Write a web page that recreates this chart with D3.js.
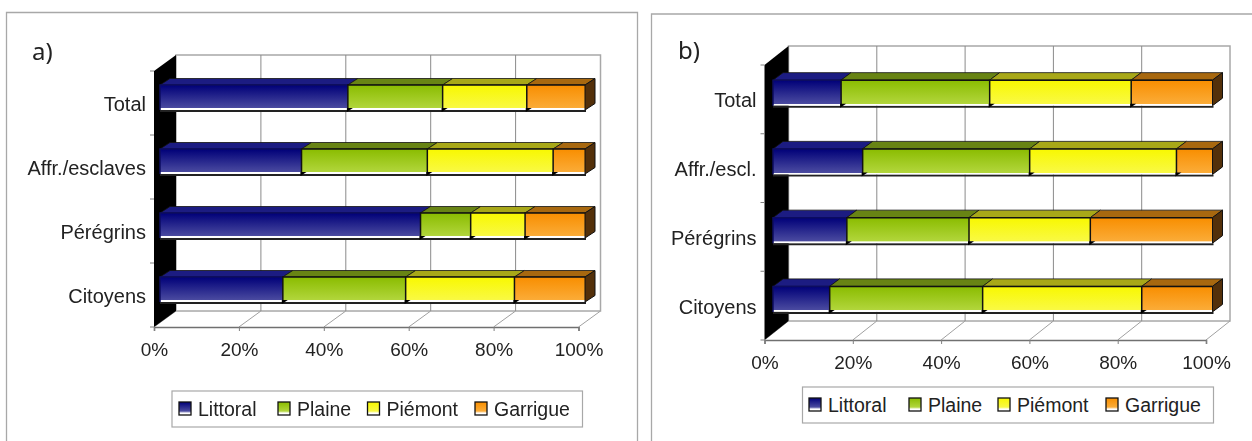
<!DOCTYPE html>
<html><head><meta charset="utf-8">
<script src="https://cdnjs.cloudflare.com/ajax/libs/d3/7.8.5/d3.min.js"></script>
<style>html,body{margin:0;background:#fff}svg{display:block;filter:blur(0.4px)}text{font-family:"Liberation Sans",Arial,sans-serif;fill:#222}</style>
</head><body><svg id="c" width="1252" height="441"></svg>
<script>
// Categories and series (percent of each row)
const seriesNames = ["Littoral","Plaine","Piémont","Garrigue"];
const categoriesA = ["Total","Affr./esclaves","Pérégrins","Citoyens"];
const categoriesB = ["Total","Affr./escl.","Pérégrins","Citoyens"];
const xTickValues = [0,20,40,60,80,100];
// Panel a
const littoralA = [44.2,33.3,61.3,28.9];
const plaineA   = [22.3,29.6,11.8,28.9];
const piemontA  = [19.8,29.6,12.8,25.6];
const garrigueA = [13.7,7.5,14.1,16.6];
// Panel b
const littoralB = [15.5,20.4,16.8,12.9];
const plaineB   = [33.8,38.0,27.8,34.8];
const piemontB  = [32.2,33.4,27.6,36.2];
const garrigueB = [18.5,8.2,27.8,16.1];

const colors = {
  Littoral:{top:"#000078",bot:"#4b4ba0",face:"#1c1c82"},
  Plaine:{top:"#8abc00",bot:"#b2d63c",face:"#688414"},
  "Piémont":{top:"#f8f800",bot:"#f9f944",face:"#a8a818"},
  Garrigue:{top:"#f88e00",bot:"#fbac38",face:"#a8680f"}
};
const svg = d3.select("#c");
const defs = svg.append("defs");
const slug = n => n.replace(/[^A-Za-z]/g,"");
seriesNames.forEach(n=>{
  const g = defs.append("linearGradient").attr("id","g"+slug(n)).attr("x1",0).attr("x2",0).attr("y1",0).attr("y2",1);
  g.append("stop").attr("offset","0").attr("stop-color",colors[n].top);
  g.append("stop").attr("offset","0.93").attr("stop-color",colors[n].bot);
  g.append("stop").attr("offset","0.94").attr("stop-color","#fff");
  const l = defs.append("linearGradient").attr("id","l"+slug(n)).attr("x1",0).attr("x2",0).attr("y1",0).attr("y2",1);
  l.append("stop").attr("offset","0").attr("stop-color",colors[n].top);
  l.append("stop").attr("offset","0.7").attr("stop-color",colors[n].bot);
  l.append("stop").attr("offset","0.85").attr("stop-color","#fff");
});

function panel(cfg){
  const root = svg.append("g");
  root.append("path").attr("d",`M${cfg.frame.l},441V${cfg.frame.t}H${cfg.frame.r}V441`)
    .attr("fill","none").attr("stroke","#a8a8a8").attr("stroke-width",1.3);
  root.append("text").attr("x",cfg.title.x).attr("y",cfg.title.y).text(cfg.title.t)
    .style("font-family","'Noto Sans'").style("font-size","24px");

  const x = d3.scaleLinear().domain([0,100]).range([cfg.x0,cfg.x1]);
  const y = d3.scaleBand().domain(cfg.categories).range([cfg.y0,cfg.y1]).padding(0);
  const {dx,dy} = cfg.depth;
  const bx = d3.scaleLinear().domain([0,100]).range([cfg.barX0,cfg.barX1]);

  // back wall
  root.append("rect").attr("x",cfg.x0+dx).attr("y",cfg.y0-dy).attr("width",cfg.x1-cfg.x0).attr("height",cfg.y1-cfg.y0)
    .attr("fill","#fff").attr("stroke","#a8a8a8").attr("stroke-width",1.5);
  // gridlines and floor lines
  const grid = root.append("g");
  xTickValues.slice(1,-1).forEach(v=>{
    grid.append("line").attr("x1",x(v)+dx).attr("x2",x(v)+dx).attr("y1",cfg.y0-dy).attr("y2",cfg.y1-dy).attr("stroke","#8a8a8a");
  });
  xTickValues.forEach(v=>{
    grid.append("line").attr("x1",x(v)).attr("x2",x(v)+dx).attr("y1",cfg.y1).attr("y2",cfg.y1-dy).attr("stroke","#a0a0a0");
  });
  // black side wall
  root.append("path").attr("d",`M${cfg.x0},${cfg.y0}L${cfg.x0+dx},${cfg.y0-dy}V${cfg.y1-dy}L${cfg.x0},${cfg.y1}Z`).attr("fill","#000");

  // stacked bars
  const rows = cfg.categories.map((c,i)=>{
    const o={cat:c}; seriesNames.forEach((n,j)=>o[n]=cfg.values[j][i]); return o;
  });
  const stacked = d3.stack().keys(seriesNames)(rows);
  const h = cfg.barH, d2x = cfg.barDepth.dx, d2y = cfg.barDepth.dy;
  const barTop = c => y(c)+y.bandwidth()/2 - h/2 + cfg.barShift;

  const bars = root.append("g");
  rows.forEach(r=>{
    const t = barTop(r.cat), b = t+h;
    bars.append("line").attr("x1",cfg.barX0).attr("x2",cfg.barX1+1).attr("y1",b+1).attr("y2",b+1).attr("stroke","#222").attr("stroke-width",2);
    stacked.forEach(s=>{
      const p = s.find(q=>q.data===r), a=bx(p[0]), e=bx(p[1]), n=s.key;
      bars.append("path").attr("d",`M${a},${t}L${a+d2x},${t-d2y}H${e+d2x}L${e},${t}Z`)
        .attr("fill",colors[n].face).attr("stroke","#111").attr("stroke-width",0.8);
    });
    stacked.forEach(s=>{
      const p = s.find(q=>q.data===r), a=bx(p[0]), e=bx(p[1]), n=s.key;
      bars.append("rect").attr("x",a).attr("y",t).attr("width",e-a).attr("height",h).attr("fill",`url(#g${slug(n)})`);
      bars.append("path").attr("d",`M${a},${t+h}V${t}H${e}`).attr("fill","none")
        .attr("stroke",n==="Littoral"?"#0c0c60":"#111").attr("stroke-width",1.5);
      if(n!=="Littoral") bars.append("path").attr("d",`M${a-1},${b-2}h6l-6,4Z`).attr("fill","#000");
    });
    const e = bx(100);
    bars.append("path").attr("d",`M${e},${t}L${e+d2x},${t-d2y}V${b-d2y}L${e},${b}Z`)
      .attr("fill","#53300a").attr("stroke","#111").attr("stroke-width",1);
  });

  const xAxis = d3.axisBottom(x).tickValues(xTickValues).tickFormat(d=>d+"%").tickSize(4).tickPadding(12);
  const gx = root.append("g").attr("transform",`translate(0,${cfg.y1})`).call(xAxis);
  gx.select(".domain").attr("stroke","#707070").attr("stroke-width",1.6);
  gx.selectAll(".tick line").attr("stroke","#808080");
  gx.selectAll("text").style("font-family","'Liberation Sans'").style("font-size","19px").attr("fill","#222");

  const yAxis = d3.axisLeft(y).tickSize(0).tickPadding(cfg.labelPad);
  const gy = root.append("g").attr("transform",`translate(${cfg.x0},1.5)`).call(yAxis);
  gy.select(".domain").remove();
  gy.selectAll("text").style("font-family","'Liberation Sans'").style("font-size","20px").attr("fill","#222");
  d3.range(cfg.categories.length+1).forEach(i=>{
    const yy = cfg.y0+i*y.step();
    root.append("line").attr("x1",cfg.x0-4).attr("x2",cfg.x0).attr("y1",yy).attr("y2",yy).attr("stroke","#808080");
  });

  const lg = root.append("g");
  lg.append("rect").attr("x",cfg.legend.x).attr("y",cfg.legend.y).attr("width",cfg.legend.w).attr("height",36)
    .attr("fill","#fff").attr("stroke","#a8a8a8").attr("stroke-width",1.2);
  seriesNames.forEach((n,i)=>{
    const sx = cfg.legend.pos[i];
    lg.append("rect").attr("x",sx).attr("y",cfg.legend.y+11).attr("width",12).attr("height",13)
      .attr("fill",`url(#l${slug(n)})`).attr("stroke","#111").attr("stroke-width",1.3);
    lg.append("text").attr("x",sx+19).attr("y",cfg.legend.y+25).text(n).style("font-size","19.5px");
  });
}

panel({
  frame:{l:6.5,t:12.5,r:637.5}, title:{x:32,y:60,t:"a)"},
  categories:categoriesA, values:[littoralA,plaineA,piemontA,garrigueA],
  x0:154,x1:578.5,y0:71,y1:327,depth:{dx:22,dy:16},
  barX0:160,barX1:585,barH:25,barShift:-5.5,barDepth:{dx:10,dy:6.5},labelPad:8,
  legend:{x:172,y:391,w:410.5,pos:[179,278,367.5,475]}
});
panel({
  frame:{l:651.5,t:14,r:1260}, title:{x:678,y:59,t:"b)"},
  categories:categoriesB, values:[littoralB,plaineB,piemontB,garrigueB],
  x0:764.5,x1:1206,y0:65,y1:340,depth:{dx:24,dy:19},
  barX0:773,barX1:1212.5,barH:25.5,barShift:-6.5,barDepth:{dx:10,dy:7.5},labelPad:8,
  legend:{x:802.5,y:387,w:411,pos:[809,909,998,1106]}
});
</script></body></html>
